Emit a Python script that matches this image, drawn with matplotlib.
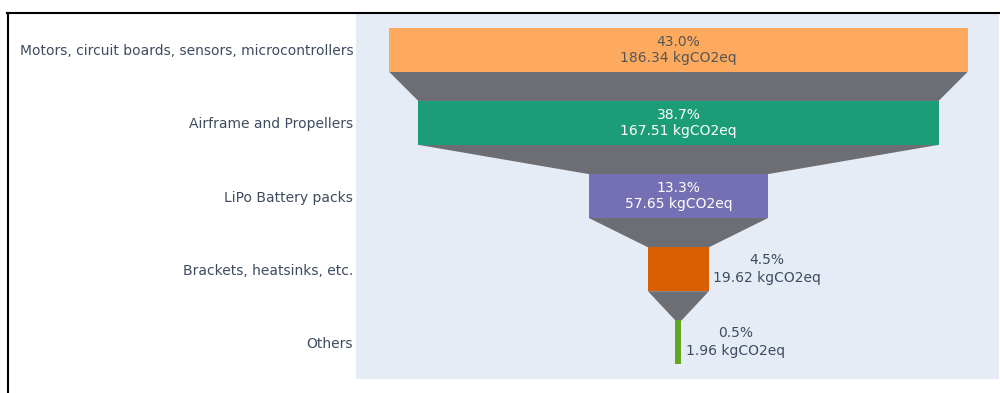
import numpy as np
import matplotlib
matplotlib.use("Agg")
import matplotlib.pyplot as plt
from matplotlib.patches import Polygon
from matplotlib.lines import Line2D

# emissions per component group, kgCO2eq
stages = ["Motors, circuit boards, sensors, microcontrollers",
          "Airframe and Propellers",
          "LiPo Battery packs",
          "Brackets, heatsinks, etc.",
          "Others"]
values = [186.34, 167.51, 57.65, 19.62, 1.96]
colors = ["#FDAA5F", "#1B9E77", "#7570B3", "#D95F02", "#66A61E"]
inside_text = ["#555555", "white", "white", None, None]

total = sum(values)
pct = [v / total * 100 for v in values]

fig = plt.figure(figsize=(10, 3.93), dpi=100)
ax = fig.add_axes([0.356, 0.0356, 0.643, 0.931])
ax.set_facecolor("#E5ECF6")

bar_h = 0.6
y = np.arange(len(values))
ax.barh(y, values, left=[-v / 2 for v in values], height=bar_h,
        color=colors, zorder=3)

# grey connectors between consecutive stages
for i in range(len(values) - 1):
    a, b = values[i] / 2, values[i + 1] / 2
    poly = Polygon([(-a, y[i] + bar_h / 2), (a, y[i] + bar_h / 2),
                    (b, y[i + 1] - bar_h / 2), (-b, y[i + 1] - bar_h / 2)],
                   closed=True, facecolor="#6d6e73", edgecolor="none", zorder=2)
    ax.add_patch(poly)

for i, v in enumerate(values):
    label = f"{pct[i]:.1f}%\n{v:.2f} kgCO2eq"
    if inside_text[i] is not None:
        ax.text(0, y[i], label, ha="center", va="center", fontsize=10,
                color=inside_text[i], linespacing=1.2, zorder=4)
    else:
        ax.annotate(label, (v / 2, y[i]), xytext=(3, 0), textcoords="offset points",
                    ha="left", va="center", multialignment="center", fontsize=10,
                    color="#3f4b5f", linespacing=1.35, zorder=4)

ax.set_xlim(-103.8, 103.2)
ax.set_ylim(len(values) - 0.5, -0.5)
ax.set_yticks(y)
ax.set_yticklabels(stages, fontsize=10, color="#3f4b5f")
ax.set_xticks([])
ax.tick_params(axis="y", length=0, pad=2)
for s in ax.spines.values():
    s.set_visible(False)

# frame lines along top and left
fig.add_artist(Line2D([0.007, 0.999], [1 - 12.5 / 393, 1 - 12.5 / 393],
                      transform=fig.transFigure, color="black", lw=1.5))
fig.add_artist(Line2D([0.0075, 0.0075], [0, 1 - 12.5 / 393],
                      transform=fig.transFigure, color="black", lw=1.5))

fig.savefig("out.png", dpi=100)
